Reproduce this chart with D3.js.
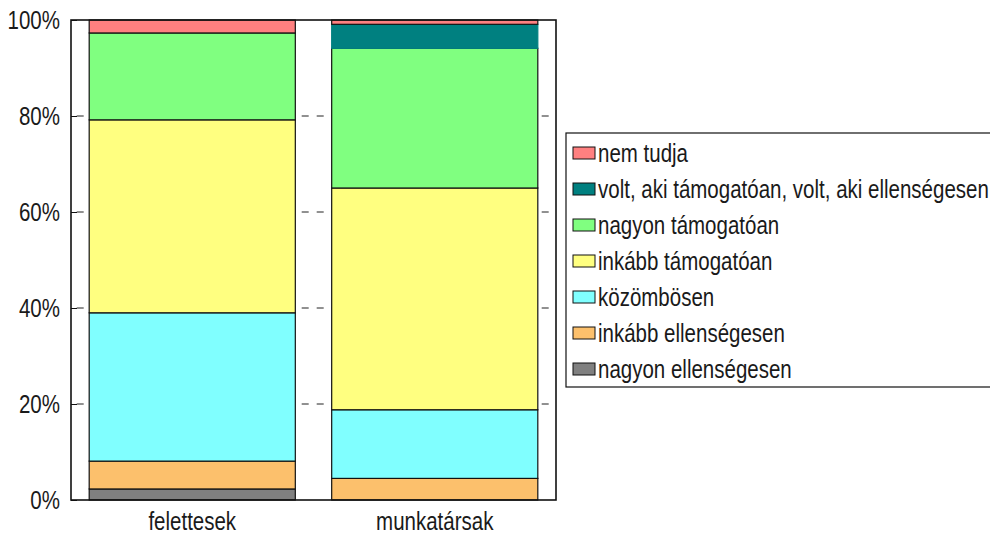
<!DOCTYPE html>
<html>
<head>
<meta charset="utf-8">
<script src="https://cdn.jsdelivr.net/npm/d3@7"></script>
<style>
  html, body { margin: 0; padding: 0; background: #fff; }
  svg { display: block; }
  text { font-family: "Liberation Sans", Arial, sans-serif; fill: #1a1a1a; }
</style>
</head>
<body>
<svg id="chart"></svg>
<script>
// categories (x axis)
const categories = ['felettesek', 'munkatársak'];

// series, bottom of the stack first (percent)
const seriesNames = [
  'nagyon ellenségesen',
  'inkább ellenségesen',
  'közömbösen',
  'inkább támogatóan',
  'nagyon támogatóan',
  'volt, aki támogatóan, volt, aki ellenségesen',
  'nem tudja'
];
const nagyonEllensegesen = [2.3, 0];
const inkabbEllensegesen = [5.8, 4.5];
const kozombosen         = [30.9, 14.3];
const inkabbTamogatoan   = [40.2, 46.2];
const nagyonTamogatoan   = [18.1, 29.1];
const voltAkiVoltAki     = [0, 5.0];
const nemTudja           = [2.7, 0.9];

const seriesColors = ['#808080', '#FCC06C', '#80FFFF', '#FFFF80', '#80FF80', '#008080', '#FF8080'];

const yTicks = [0, 20, 40, 60, 80, 100];

const allValues = [nagyonEllensegesen, inkabbEllensegesen, kozombosen,
                   inkabbTamogatoan, nagyonTamogatoan, voltAkiVoltAki, nemTudja];

const width = 990, height = 534;
const margin = { top: 20, right: 434, bottom: 34, left: 71 };
const w = width - margin.left - margin.right;
const h = height - margin.top - margin.bottom;
const FS = 25, SX = 0.82;   // font size, horizontal squeeze (narrow look)

const rows = categories.map((c, i) => {
  const r = { cat: c };
  seriesNames.forEach((s, j) => { r[s] = allValues[j][i]; });
  return r;
});
const stacked = d3.stack().keys(seriesNames)(rows);

const svg = d3.select('#chart').attr('width', width).attr('height', height);
const g = svg.append('g').attr('transform', `translate(${margin.left},${margin.top})`);

const x = d3.scaleBand().domain(categories).range([0, w]).paddingInner(0.15).paddingOuter(0.075);
const y = d3.scaleLinear().domain([0, 100]).range([h, 0]);
const color = d3.scaleOrdinal().domain(seriesNames).range(seriesColors);

// squeezed text helper
function label(sel, tx, ty) {
  return sel.attr('transform', `translate(${tx},${ty}) scale(${SX},1)`)
    .attr('font-size', FS);
}

// dashed grid behind bars
g.selectAll('line.grid')
  .data(yTicks.filter(t => t > 0 && t < 100))
  .join('line')
  .attr('class', 'grid')
  .attr('x1', 0).attr('x2', w)
  .attr('y1', d => y(d)).attr('y2', d => y(d))
  .attr('stroke', '#222')
  .attr('stroke-width', 1)
  .attr('stroke-dasharray', '7,8')
  .attr('stroke-dashoffset', 9.3);

// left ticks (inward) + labels
g.append('g')
  .call(d3.axisLeft(y).tickValues(yTicks).tickSize(-6).tickFormat(''))
  .call(a => a.select('.domain').remove())
  .call(a => a.selectAll('line').attr('stroke', '#111'));

g.selectAll('text.ytick')
  .data(yTicks)
  .join('text')
  .attr('class', 'ytick')
  .each(function(d) { label(d3.select(this), -11, y(d)); })
  .attr('text-anchor', 'end')
  .attr('dy', '0.36em')
  .text(d => d + '%');

// bars
g.selectAll('g.layer')
  .data(stacked)
  .join('g')
  .attr('class', 'layer')
  .attr('fill', d => color(d.key))
  .selectAll('rect')
  .data(d => d.map(p => Object.assign(p, { key: d.key })))
  .join('rect')
  .filter(d => d[1] - d[0] > 0)
  .attr('x', d => x(d.data.cat))
  .attr('width', x.bandwidth())
  .attr('y', d => y(d[1]))
  .attr('height', d => y(d[0]) - y(d[1]))
  .attr('stroke', d => d.key === seriesNames[5] ? color(d.key) : '#111')
  .attr('stroke-width', 1.2);

// frame
g.append('rect')
  .attr('x', 0).attr('y', 0).attr('width', w).attr('height', h)
  .attr('fill', 'none').attr('stroke', '#111').attr('stroke-width', 1.6);

// category labels
g.selectAll('text.cat')
  .data(categories)
  .join('text')
  .attr('class', 'cat')
  .each(function(d) { label(d3.select(this), x(d) + x.bandwidth() / 2, h + 30); })
  .attr('text-anchor', 'middle')
  .text(d => d);

// legend
const legend = svg.append('g').attr('transform', 'translate(566,133)');
legend.append('rect')
  .attr('x', 0).attr('y', 0).attr('width', 440).attr('height', 254)
  .attr('fill', '#fff').attr('stroke', '#111').attr('stroke-width', 1.2);

const legendItems = seriesNames.slice().reverse();
const li = legend.selectAll('g.item')
  .data(legendItems)
  .join('g')
  .attr('class', 'item')
  .attr('transform', (d, i) => `translate(7,${20 + i * 36})`);
li.append('rect')
  .attr('x', 0).attr('y', -6).attr('width', 22).attr('height', 12)
  .attr('fill', d => color(d)).attr('stroke', '#111').attr('stroke-width', 1);
li.append('text')
  .each(function() { label(d3.select(this), 25, 0); })
  .attr('dy', '0.36em')
  .text(d => d);
</script>
</body>
</html>
